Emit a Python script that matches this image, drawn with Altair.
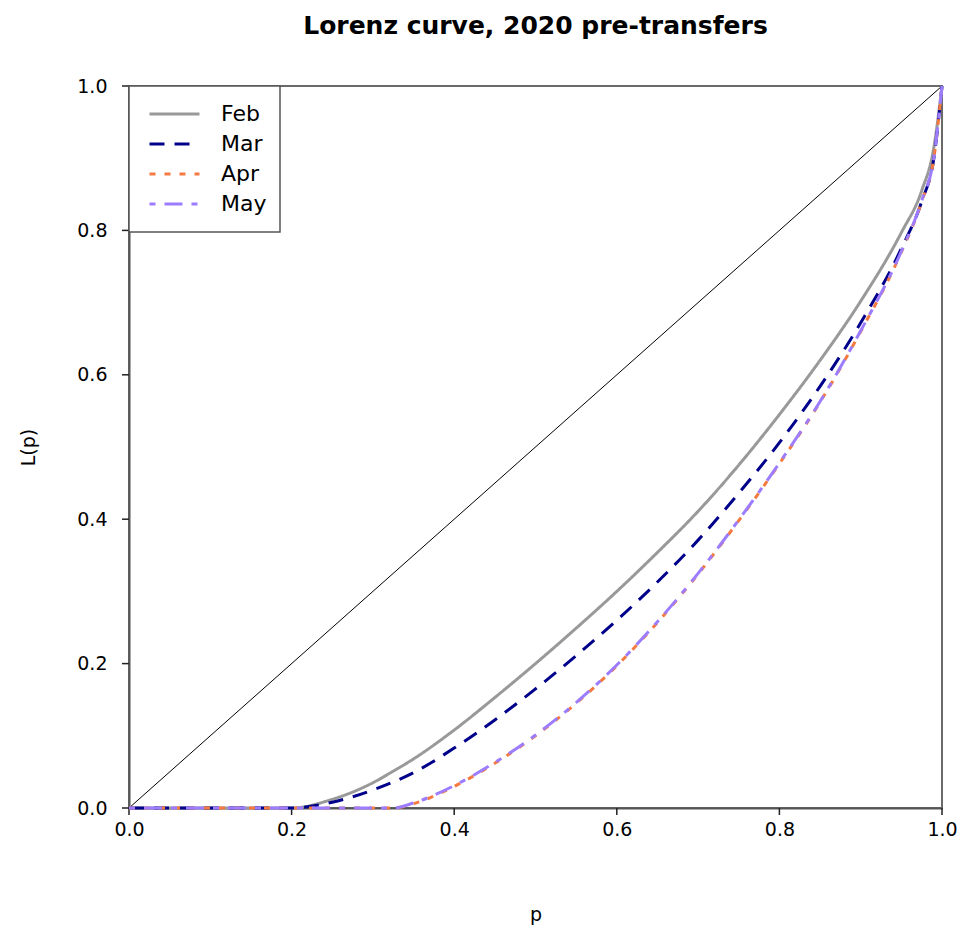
import altair as alt
import pandas as pd

p = [0.0, 0.05, 0.1, 0.15, 0.2, 0.25, 0.3, 0.325, 0.35, 0.4, 0.45, 0.5, 0.55,
     0.6, 0.65, 0.7, 0.75, 0.8, 0.85, 0.9, 0.95, 0.975, 0.99, 1.0]
feb = [0, 0, 0, 0, 0, 0.012, 0.035, 0.051, 0.068, 0.108, 0.153, 0.20, 0.249,
       0.30, 0.354, 0.411, 0.475, 0.545, 0.62, 0.702, 0.797, 0.855, 0.915, 1.0]
mar = [0, 0, 0, 0, 0, 0.008, 0.025, 0.036, 0.049, 0.083, 0.122, 0.165, 0.211,
       0.26, 0.313, 0.371, 0.436, 0.506, 0.584, 0.672, 0.775, 0.84, 0.90, 1.0]
apr = [0, 0, 0, 0, 0, 0, 0, 0, 0.006, 0.030, 0.062, 0.10, 0.145,
       0.197, 0.257, 0.324, 0.398, 0.477, 0.562, 0.66, 0.77, 0.84, 0.90, 1.0]
may = [0, 0, 0, 0, 0, 0, 0, 0, 0.007, 0.031, 0.063, 0.101, 0.146,
       0.198, 0.258, 0.325, 0.399, 0.478, 0.563, 0.661, 0.771, 0.841, 0.901, 1.0]

months = ["Feb", "Mar", "Apr", "May"]
colors = ["#999999", "#00008B", "#F47A42", "#9C7CFF"]
dashes = [[1, 0], [15, 10], [6, 9], [6, 9, 18, 9]]
tick_values = [0, 0.2, 0.4, 0.6, 0.8, 1.0]

rows = []
for m, vals in zip(months, [feb, mar, apr, may]):
    for i, (pp, v) in enumerate(zip(p, vals)):
        rows.append({"month": m, "p": pp, "L": v, "order": i})
df = pd.DataFrame(rows)

diag = pd.DataFrame({"p": [0.0, 1.0], "L": [0.0, 1.0]})

FONT = "DejaVu Sans"
W, H = 813, 722
TICK_LEN = 7
xscale = alt.Scale(domain=[0, 1], nice=False, zero=False)
yscale = alt.Scale(domain=[0, 1], nice=False, zero=False)

# tick segments built from the tick values (start on the frame, end 7px outside)
xt_rows, yt_rows = [], []
for v in tick_values:
    xt_rows += [{"v": v, "p": v, "L": 0.0}, {"v": v, "p": v, "L": -TICK_LEN / H}]
    yt_rows += [{"v": v, "p": 0.0, "L": v}, {"v": v, "p": -TICK_LEN / W, "L": v}]
xt_df = pd.DataFrame(xt_rows)
yt_df = pd.DataFrame(yt_rows)

xaxis = alt.Axis(values=tick_values, format=".1f", title="p", grid=False,
                 ticks=False, labelPadding=12, titlePadding=66, labelFlush=False)
yaxis = alt.Axis(values=tick_values, format=".1f", title="L(p)", grid=False,
                 ticks=False, labelPadding=22, titlePadding=38, labelFlush=False)

diag_line = alt.Chart(diag).mark_line(color="#000000", strokeWidth=1).encode(
    x=alt.X("p:Q", scale=xscale, axis=xaxis),
    y=alt.Y("L:Q", scale=yscale, axis=yaxis),
)

xticks = alt.Chart(xt_df).mark_line(color="#222222", strokeWidth=1.5, clip=False).encode(
    x=alt.X("p:Q", scale=xscale, axis=xaxis),
    y=alt.Y("L:Q", scale=yscale, axis=yaxis),
    detail="v:N",
)
yticks = alt.Chart(yt_df).mark_line(color="#222222", strokeWidth=1.5, clip=False).encode(
    x=alt.X("p:Q", scale=xscale, axis=xaxis),
    y=alt.Y("L:Q", scale=yscale, axis=yaxis),
    detail="v:N",
)

curves = alt.Chart(df).mark_line(strokeWidth=3, interpolate="monotone").encode(
    x=alt.X("p:Q", scale=xscale, axis=xaxis),
    y=alt.Y("L:Q", scale=yscale, axis=yaxis),
    color=alt.Color("month:N", scale=alt.Scale(domain=months, range=colors),
                    sort=months, legend=alt.Legend(title=None)),
    strokeDash=alt.StrokeDash("month:N", scale=alt.Scale(domain=months, range=dashes),
                              sort=months, legend=alt.Legend(title=None)),
    order="order:Q",
)

chart = alt.layer(diag_line, xticks, yticks, curves).properties(
    width=W, height=H,
    title=alt.TitleParams("Lorenz curve, 2020 pre-transfers", fontSize=25,
                          font=FONT, fontWeight="bold", offset=38,
                          color="#000000"),
    padding={"left": 129, "top": 86, "right": 22, "bottom": 127},
    autosize=alt.AutoSizeParams(type="none"),
).configure_view(
    stroke="#6a6a6a", strokeWidth=2
).configure_axis(
    labelFont=FONT, titleFont=FONT,
    labelFontSize=19, titleFontSize=19, titleFontWeight="normal",
    labelColor="#000000", titleColor="#000000",
    domainColor="#555555", domainWidth=2,
).configure_axisY(
    labelAngle=0
).configure_legend(
    orient="top-left", offset=0, padding=13, strokeColor="#555555",
    fillColor="#ffffff", strokeWidth=1.5,
    labelFont=FONT, labelFontSize=22, labelColor="#000000",
    symbolType="stroke", symbolSize=2500, symbolStrokeWidth=3,
    symbolOffset=6, labelOffset=20, rowPadding=0, clipHeight=30,
)

chart.save("out.html", embed_options={"renderer": "svg", "actions": False})
